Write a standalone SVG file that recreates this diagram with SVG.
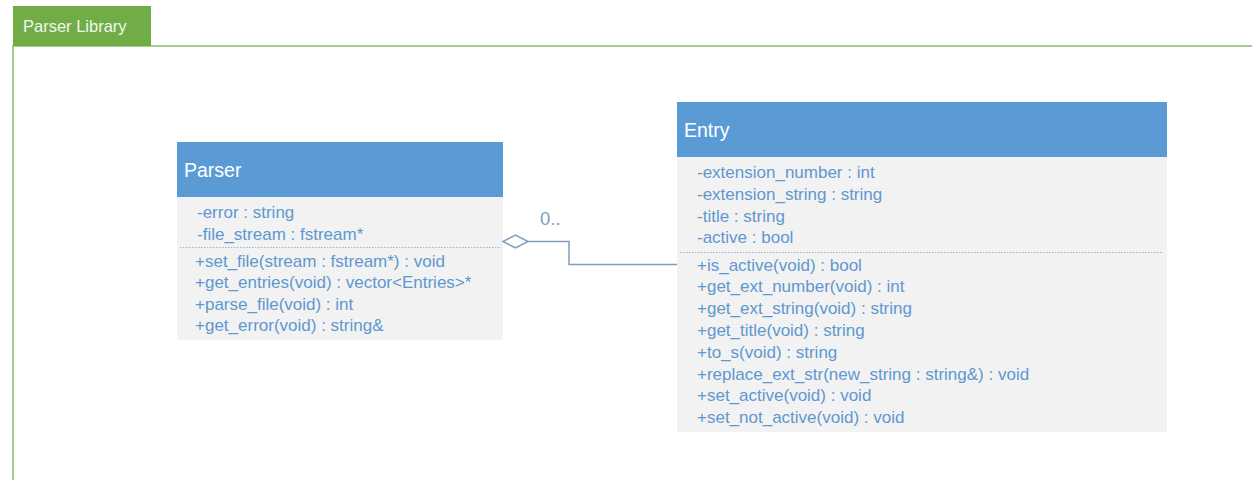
<svg xmlns="http://www.w3.org/2000/svg" width="1252" height="480" viewBox="0 0 1252 480">
<style>
.frame{fill:none;stroke:#8DBB6A;stroke-width:1.5}
.tab{fill:#70AD47}
.tabtxt{font-family:"Liberation Sans",Arial,sans-serif;font-size:16.5px;fill:#F2F7EE}
.hdr{fill:#5B9BD5}
.body{fill:#F2F2F2}
.title{font-family:"Liberation Sans",Arial,sans-serif;font-size:19.5px;fill:#FFFFFF}
.mem{font-family:"Liberation Sans",Arial,sans-serif;font-size:17px;fill:#5E98D0}
.sep{stroke:#9FB3C8;stroke-width:1;stroke-dasharray:1.5,1.5}
.conn{fill:none;stroke:#7F9DBE;stroke-width:1.5}
.lbl{font-family:"Liberation Sans",Arial,sans-serif;font-size:18.5px;fill:#7F9DBE}
</style>
<rect width="1252" height="480" fill="#FFFFFF"/>
<g id="frame">
<polyline class="frame" points="1252,46 13,46 13,480"/>
<rect class="tab" x="13" y="6" width="138" height="40"/>
<text class="tabtxt" x="23" y="32">Parser Library</text>
</g>
<g id="parser">
<rect class="hdr" x="177" y="142" width="326" height="55"/>
<rect class="body" x="177" y="197" width="326" height="143"/>
<text class="title" x="184" y="177">Parser</text>
<text class="mem" x="197" y="218">-error : string</text>
<text class="mem" x="197" y="240">-file_stream : fstream*</text>
<line class="sep" x1="180" y1="247.5" x2="500" y2="247.5"/>
<text class="mem" x="195" y="267">+set_file(stream : fstream*) : void</text>
<text class="mem" x="195" y="288">+get_entries(void) : vector&lt;Entries&gt;*</text>
<text class="mem" x="195" y="310">+parse_file(void) : int</text>
<text class="mem" x="195" y="331">+get_error(void) : string&amp;</text>
</g>
<g id="entry">
<rect class="hdr" x="677" y="102" width="490" height="55"/>
<rect class="body" x="677" y="157" width="490" height="275"/>
<text class="title" x="684" y="137">Entry</text>
<text class="mem" x="697" y="178">-extension_number : int</text>
<text class="mem" x="697" y="200">-extension_string : string</text>
<text class="mem" x="697" y="222">-title : string</text>
<text class="mem" x="697" y="243">-active : bool</text>
<line class="sep" x1="680" y1="252.5" x2="1163" y2="252.5"/>
<text class="mem" x="697" y="271">+is_active(void) : bool</text>
<text class="mem" x="697" y="292">+get_ext_number(void) : int</text>
<text class="mem" x="697" y="314">+get_ext_string(void) : string</text>
<text class="mem" x="697" y="336">+get_title(void) : string</text>
<text class="mem" x="697" y="358">+to_s(void) : string</text>
<text class="mem" x="697" y="380">+replace_ext_str(new_string : string&amp;) : void</text>
<text class="mem" x="697" y="401">+set_active(void) : void</text>
<text class="mem" x="697" y="423">+set_not_active(void) : void</text>
</g>
<g id="connectors">
<polygon points="503,241.5 515.5,235 528,241.5 515.5,248" fill="#FFFFFF" stroke="#7F9DBE" stroke-width="1.5"/>
<polyline class="conn" points="528,241.5 569,241.5 569,264.5 677,264.5"/>
<text class="lbl" x="540" y="225">0..</text>
</g>
</svg>
